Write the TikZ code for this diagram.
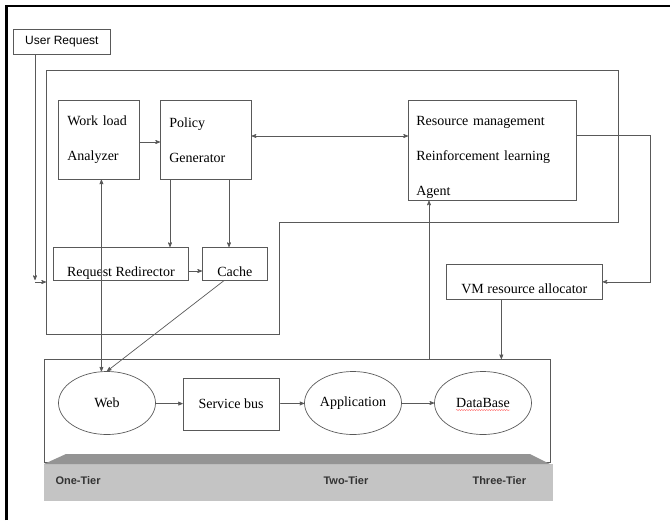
\documentclass[tikz,border=0pt]{standalone}
\usepackage{fontspec}
\setmainfont{Liberation Serif}
\setsansfont{Liberation Sans}
\usetikzlibrary{arrows,shapes.geometric,decorations.pathmorphing}

\begin{document}
\begin{tikzpicture}[->,>=stealth',x=1pt,y=-1pt,
  box/.style={draw=black!65,line width=0.7pt,rectangle,inner sep=0pt,anchor=north west,
    font=\fontsize{14}{17}\selectfont},
  tier/.style={draw=black!65,line width=0.7pt,ellipse,minimum width=97pt,minimum height=63pt,
    inner sep=0pt,font=\fontsize{14}{17}\selectfont},
  wire/.style={draw=black!65,line width=0.7pt},
  tiername/.style={anchor=west,text=black!80,font=\sffamily\bfseries\fontsize{11}{13}\selectfont}]
\useasboundingbox (0,0) rectangle (670,520);
\draw[-,line width=2.5pt] (6.5,520) -- (6.5,6) -- (670,6);

% controller
\draw[wire,-] (46,70) -| (618,222) -| (279,334) -| (46,70) -- cycle;
\node[box,font=\sffamily\fontsize{12}{14}\selectfont,minimum width=97pt,minimum height=25pt] (user) at (13,29) {User Request};
\node[box,minimum width=81pt,minimum height=79pt,text width=63pt,inner xsep=9pt,align=left] (analyzer) at (58,100) {Work load\\[18pt]Analyzer};
\node[box,minimum width=91pt,minimum height=79pt,text width=73pt,inner xsep=9pt,align=left] (policy) at (160,100) {Policy\\[18pt]Generator};
\node[box,minimum width=168pt,minimum height=100pt,text width=152pt,inner xsep=8pt,align=left] (agent) at (408,100) {\rule{0pt}{24pt}Resource management\\[18pt]Reinforcement learning\\[18pt]Agent};
\node[box,minimum width=135pt,text height=29pt,text depth=4pt] (redirect) at (53,247) {Request Redirector};
\node[box,minimum width=65pt,text height=29pt,text depth=4pt] (cache) at (202,247) {Cache};
\node[box,minimum width=156pt,text height=29pt,text depth=6pt] (vm) at (446,264) {VM resource allocator};

% tiers
\node[box,minimum width=506pt,minimum height=103pt] (tiers) at (44,359) {};
\fill[-,black!23] (44,464) rectangle (553,501);
\fill[-,black!42] (44,464) -- (66,454) -- (530,454) -- (550,464) -- cycle;
\node[tier] (web) at (107,403) {Web};
\node[box,anchor=center,minimum width=96pt,minimum height=52pt] (bus) at (231,404) {Service bus};
\node[tier] (app) at (353,403) {Application};
\node[tier] (db) at (483,403) {DataBase};
\draw[-,red!70,line width=0.4pt,decorate,decoration={snake,amplitude=0.5pt,segment length=2.5pt}]
  ([xshift=-27pt,yshift=-7pt]db.center) -- ([xshift=27pt,yshift=-7pt]db.center);
\node[tiername] (one) at (52,481) {One-Tier};
\node[tiername] (two) at (320,481) {Two-Tier};
\node[tiername] (three) at (469,481) {Three-Tier};

\coordinate (bend) at (35,280);
\coordinate (entry) at (46,282);
\coordinate (pgleft) at ([xshift=10pt]policy.south west);
\coordinate (pgright) at ([xshift=69pt]policy.south west);
\coordinate (agentin) at ([xshift=21pt]agent.south west);
\coordinate (vmout) at ([xshift=-23pt]vm.south);

\draw[wire] (user.south -| bend) -- (bend);
\draw[wire] (bend |- entry) -- (entry);
\draw[wire] ([yshift=-42pt]analyzer.north east) -- ([yshift=-42pt]policy.north west);
\draw[wire,<->] ([yshift=-36pt]policy.north east) -- ([yshift=-36pt]agent.north west);
\draw[wire] (pgleft) -- (pgleft |- redirect.north);
\draw[wire] (pgright) -- (pgright |- cache.north);
\draw[wire] ([yshift=-24pt]redirect.north east) -- ([yshift=-24pt]cache.north west);
\draw[wire,<->] (analyzer.south -| web.100) -- (web.100);
\draw[wire] ([xshift=-11pt]cache.south) -- (web.north);
\draw[wire] ([yshift=-35pt]agent.north east) -- ++(74,0) |- (vm.east);
\draw[wire] (vmout) -- (vmout |- tiers.north);
\draw[wire] (tiers.north -| agentin) -- (agentin);
\draw[wire] (web) -- (bus);
\draw[wire] (bus) -- (app);
\draw[wire] (app) -- (db);
\end{tikzpicture}
\end{document}
